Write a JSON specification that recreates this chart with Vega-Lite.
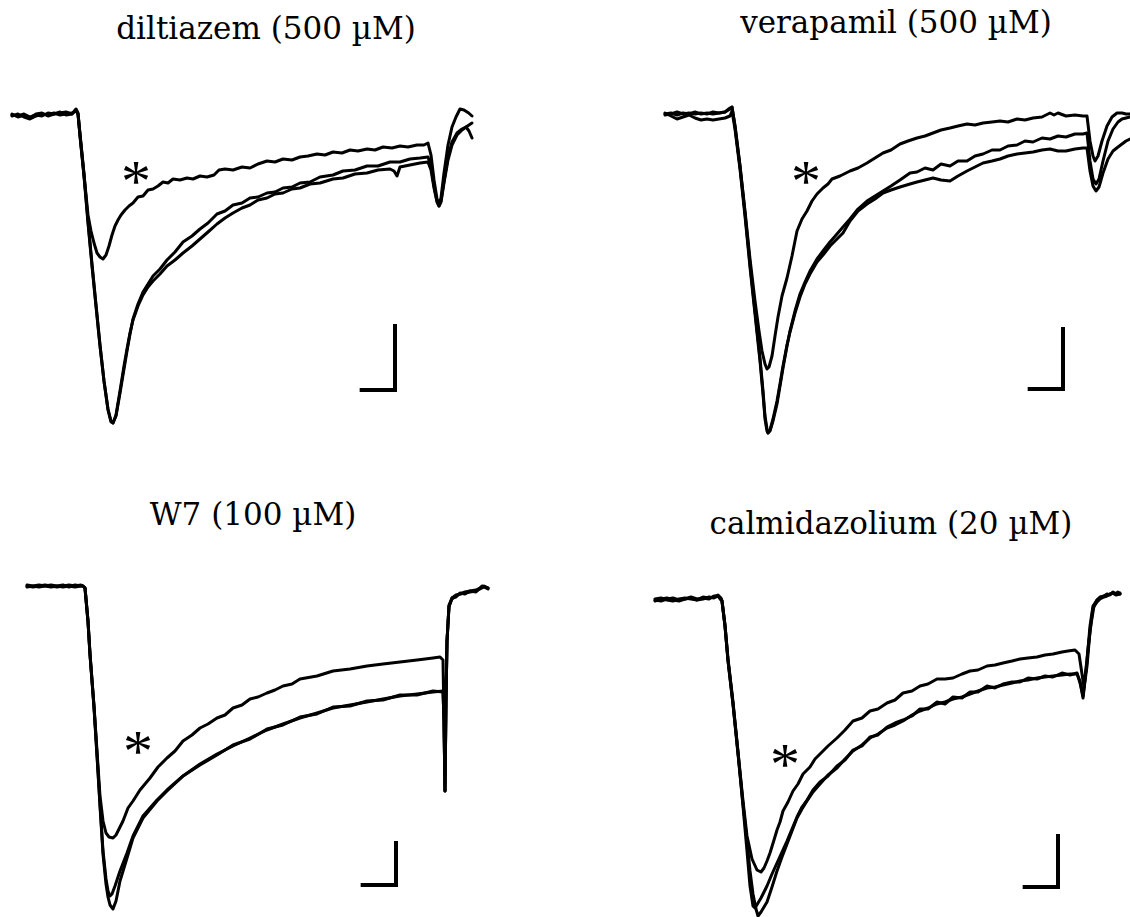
{
  "$schema": "https://vega.github.io/schema/vega-lite/v6.json",
  "background": "white",
  "autosize": {"type": "pad"},
  "padding": {"top": 8, "left": 0, "right": 0, "bottom": 0},
  "columns": 2,
  "spacing": 130,
  "bounds": "flush",
  "config": {
    "view": {"stroke": null},
    "title": {"font": "DejaVu Serif", "fontSize": 31, "fontWeight": "normal", "color": "black", "baseline": "alphabetic", "frame": "group", "anchor": "middle"},
    "line": {"color": "black", "strokeWidth": 3, "strokeJoin": "round", "strokeCap": "round"},
    "rule": {"color": "black", "strokeWidth": 4, "strokeCap": "square"},
    "text": {"color": "black", "font": "Liberation Serif", "fontSize": 60, "baseline": "alphabetic", "align": "center", "dy": 25}
  },
  "datasets": {
    "diltiazem": [
      {"s":"control","t":3.6,"i":0},{"s":"control","t":5.4,"i":-2},{"s":"control","t":7.2,"i":2},{"s":"control","t":9.0,"i":-4},{"s":"control","t":10.8,"i":0},{"s":"control","t":12.6,"i":-2},{"s":"control","t":14.4,"i":4},{"s":"control","t":16.2,"i":2},{"s":"control","t":18.0,"i":6},{"s":"control","t":19.8,"i":0},{"s":"control","t":21.6,"i":2},{"s":"control","t":22.8,"i":12},{"s":"control","t":23.4,"i":4},{"s":"control","t":24.0,"i":-42},{"s":"control","t":25.2,"i":-122},{"s":"control","t":26.4,"i":-216},{"s":"control","t":27.6,"i":-302},{"s":"control","t":28.8,"i":-382},{"s":"control","t":30.0,"i":-462},{"s":"control","t":31.2,"i":-532},{"s":"control","t":32.4,"i":-588},{"s":"control","t":33.3,"i":-612},{"s":"control","t":33.9,"i":-616},{"s":"control","t":34.8,"i":-602},{"s":"control","t":36.0,"i":-556},{"s":"control","t":37.2,"i":-508},{"s":"control","t":38.1,"i":-472},{"s":"control","t":39.0,"i":-438},{"s":"control","t":39.9,"i":-408},{"s":"control","t":41.4,"i":-378},{"s":"control","t":42.9,"i":-354},{"s":"control","t":44.4,"i":-338},{"s":"control","t":45.9,"i":-322},{"s":"control","t":48.0,"i":-308},{"s":"control","t":50.1,"i":-290},{"s":"control","t":52.5,"i":-274},{"s":"control","t":54.9,"i":-254},{"s":"control","t":57.6,"i":-242},{"s":"control","t":60.0,"i":-228},{"s":"control","t":62.4,"i":-216},{"s":"control","t":65.1,"i":-198},{"s":"control","t":67.5,"i":-192},{"s":"control","t":69.9,"i":-180},{"s":"control","t":72.6,"i":-176},{"s":"control","t":75.0,"i":-166},{"s":"control","t":77.4,"i":-164},{"s":"control","t":80.1,"i":-156},{"s":"control","t":82.5,"i":-154},{"s":"control","t":84.9,"i":-146},{"s":"control","t":87.6,"i":-144},{"s":"control","t":90.0,"i":-136},{"s":"control","t":93.0,"i":-134},{"s":"control","t":96.0,"i":-124},{"s":"control","t":99.9,"i":-120},{"s":"control","t":102.9,"i":-112},{"s":"control","t":106.5,"i":-110},{"s":"control","t":110.1,"i":-102},{"s":"control","t":113.4,"i":-102},{"s":"control","t":117.0,"i":-94},{"s":"control","t":120.0,"i":-94},{"s":"control","t":123.0,"i":-88},{"s":"control","t":126.0,"i":-86},{"s":"control","t":128.4,"i":-84},{"s":"control","t":129.3,"i":-102},{"s":"control","t":130.2,"i":-142},{"s":"control","t":131.1,"i":-172},{"s":"control","t":131.7,"i":-182},{"s":"control","t":132.3,"i":-172},{"s":"control","t":133.2,"i":-132},{"s":"control","t":134.4,"i":-84},{"s":"control","t":135.6,"i":-54},{"s":"control","t":137.1,"i":-36},{"s":"control","t":138.6,"i":-28},{"s":"control","t":139.8,"i":-24},{"s":"control","t":140.7,"i":-32},{"s":"control","t":141.6,"i":-46},
      {"s":"washout","t":3.6,"i":-2},{"s":"washout","t":5.4,"i":2},{"s":"washout","t":7.2,"i":-4},{"s":"washout","t":9.0,"i":-8},{"s":"washout","t":10.8,"i":-2},{"s":"washout","t":12.6,"i":2},{"s":"washout","t":14.4,"i":0},{"s":"washout","t":16.2,"i":4},{"s":"washout","t":18.0,"i":0},{"s":"washout","t":19.8,"i":2},{"s":"washout","t":21.6,"i":4},{"s":"washout","t":22.8,"i":8},{"s":"washout","t":23.4,"i":2},{"s":"washout","t":24.0,"i":-38},{"s":"washout","t":25.2,"i":-118},{"s":"washout","t":26.4,"i":-212},{"s":"washout","t":27.6,"i":-298},{"s":"washout","t":28.8,"i":-380},{"s":"washout","t":30.0,"i":-460},{"s":"washout","t":31.2,"i":-532},{"s":"washout","t":32.4,"i":-590},{"s":"washout","t":33.3,"i":-614},{"s":"washout","t":33.9,"i":-616},{"s":"washout","t":34.8,"i":-600},{"s":"washout","t":36.0,"i":-552},{"s":"washout","t":37.2,"i":-502},{"s":"washout","t":38.1,"i":-468},{"s":"washout","t":39.0,"i":-436},{"s":"washout","t":39.9,"i":-410},{"s":"washout","t":41.4,"i":-382},{"s":"washout","t":42.9,"i":-360},{"s":"washout","t":44.4,"i":-344},{"s":"washout","t":45.9,"i":-332},{"s":"washout","t":48.0,"i":-318},{"s":"washout","t":50.1,"i":-302},{"s":"washout","t":52.5,"i":-290},{"s":"washout","t":54.9,"i":-276},{"s":"washout","t":57.6,"i":-262},{"s":"washout","t":60.0,"i":-248},{"s":"washout","t":62.4,"i":-234},{"s":"washout","t":65.1,"i":-218},{"s":"washout","t":67.5,"i":-206},{"s":"washout","t":69.9,"i":-196},{"s":"washout","t":72.6,"i":-186},{"s":"washout","t":75.0,"i":-180},{"s":"washout","t":77.4,"i":-170},{"s":"washout","t":80.1,"i":-166},{"s":"washout","t":82.5,"i":-158},{"s":"washout","t":84.9,"i":-156},{"s":"washout","t":87.6,"i":-148},{"s":"washout","t":90.0,"i":-146},{"s":"washout","t":93.0,"i":-138},{"s":"washout","t":96.0,"i":-136},{"s":"washout","t":99.9,"i":-128},{"s":"washout","t":102.9,"i":-126},{"s":"washout","t":106.5,"i":-118},{"s":"washout","t":110.1,"i":-116},{"s":"washout","t":113.4,"i":-110},{"s":"washout","t":117.0,"i":-108},{"s":"washout","t":118.2,"i":-112},{"s":"washout","t":119.1,"i":-122},{"s":"washout","t":120.0,"i":-104},{"s":"washout","t":123.0,"i":-100},{"s":"washout","t":126.0,"i":-96},{"s":"washout","t":128.4,"i":-94},{"s":"washout","t":129.3,"i":-110},{"s":"washout","t":130.2,"i":-146},{"s":"washout","t":131.1,"i":-174},{"s":"washout","t":131.7,"i":-182},{"s":"washout","t":132.3,"i":-174},{"s":"washout","t":133.2,"i":-136},{"s":"washout","t":134.4,"i":-90},{"s":"washout","t":135.6,"i":-60},{"s":"washout","t":137.1,"i":-40},{"s":"washout","t":138.6,"i":-30},{"s":"washout","t":139.8,"i":-24},{"s":"washout","t":140.7,"i":-20},{"s":"washout","t":141.6,"i":-16},
      {"s":"drug","t":3.6,"i":2},{"s":"drug","t":5.4,"i":-4},{"s":"drug","t":7.2,"i":0},{"s":"drug","t":9.0,"i":-6},{"s":"drug","t":10.8,"i":2},{"s":"drug","t":12.6,"i":4},{"s":"drug","t":14.4,"i":-2},{"s":"drug","t":16.2,"i":2},{"s":"drug","t":18.0,"i":4},{"s":"drug","t":19.8,"i":6},{"s":"drug","t":21.6,"i":2},{"s":"drug","t":22.8,"i":10},{"s":"drug","t":23.4,"i":2},{"s":"drug","t":24.0,"i":-40},{"s":"drug","t":25.2,"i":-120},{"s":"drug","t":26.4,"i":-200},{"s":"drug","t":27.3,"i":-232},{"s":"drug","t":28.2,"i":-256},{"s":"drug","t":29.1,"i":-276},{"s":"drug","t":30.0,"i":-284},{"s":"drug","t":30.9,"i":-288},{"s":"drug","t":31.8,"i":-280},{"s":"drug","t":32.7,"i":-262},{"s":"drug","t":33.6,"i":-240},{"s":"drug","t":34.5,"i":-222},{"s":"drug","t":35.4,"i":-210},{"s":"drug","t":36.3,"i":-200},{"s":"drug","t":37.5,"i":-190},{"s":"drug","t":38.7,"i":-182},{"s":"drug","t":39.9,"i":-176},{"s":"drug","t":41.4,"i":-164},{"s":"drug","t":42.9,"i":-162},{"s":"drug","t":44.4,"i":-150},{"s":"drug","t":45.9,"i":-148},{"s":"drug","t":47.4,"i":-142},{"s":"drug","t":48.9,"i":-134},{"s":"drug","t":50.4,"i":-136},{"s":"drug","t":51.9,"i":-128},{"s":"drug","t":54.0,"i":-130},{"s":"drug","t":56.1,"i":-126},{"s":"drug","t":57.9,"i":-128},{"s":"drug","t":60.0,"i":-122},{"s":"drug","t":62.1,"i":-124},{"s":"drug","t":64.2,"i":-120},{"s":"drug","t":65.7,"i":-110},{"s":"drug","t":67.5,"i":-108},{"s":"drug","t":69.9,"i":-110},{"s":"drug","t":72.6,"i":-104},{"s":"drug","t":75.0,"i":-106},{"s":"drug","t":77.4,"i":-98},{"s":"drug","t":80.1,"i":-92},{"s":"drug","t":82.5,"i":-94},{"s":"drug","t":84.9,"i":-88},{"s":"drug","t":87.6,"i":-90},{"s":"drug","t":90.0,"i":-84},{"s":"drug","t":92.4,"i":-82},{"s":"drug","t":95.1,"i":-78},{"s":"drug","t":97.5,"i":-80},{"s":"drug","t":99.9,"i":-74},{"s":"drug","t":102.6,"i":-76},{"s":"drug","t":105.0,"i":-70},{"s":"drug","t":107.4,"i":-72},{"s":"drug","t":110.1,"i":-68},{"s":"drug","t":112.5,"i":-70},{"s":"drug","t":114.9,"i":-64},{"s":"drug","t":117.6,"i":-66},{"s":"drug","t":120.0,"i":-62},{"s":"drug","t":122.4,"i":-64},{"s":"drug","t":125.1,"i":-60},{"s":"drug","t":127.2,"i":-60},{"s":"drug","t":128.4,"i":-56},{"s":"drug","t":129.3,"i":-80},{"s":"drug","t":130.2,"i":-130},{"s":"drug","t":131.1,"i":-168},{"s":"drug","t":131.7,"i":-178},{"s":"drug","t":132.3,"i":-166},{"s":"drug","t":133.2,"i":-116},{"s":"drug","t":134.4,"i":-60},{"s":"drug","t":135.6,"i":-24},{"s":"drug","t":136.8,"i":-4},{"s":"drug","t":138.0,"i":12},{"s":"drug","t":139.2,"i":10},{"s":"drug","t":140.6,"i":4},{"s":"drug","t":141.6,"i":-2}
    ],
    "verapamil": [
      {"s":"control","t":10.5,"i":0},{"s":"control","t":12.3,"i":2},{"s":"control","t":14.1,"i":-2},{"s":"control","t":15.9,"i":2},{"s":"control","t":17.7,"i":0},{"s":"control","t":19.5,"i":4},{"s":"control","t":21.3,"i":0},{"s":"control","t":23.1,"i":2},{"s":"control","t":24.9,"i":0},{"s":"control","t":26.7,"i":2},{"s":"control","t":28.5,"i":4},{"s":"control","t":30.0,"i":12},{"s":"control","t":30.6,"i":14},{"s":"control","t":31.5,"i":-24},{"s":"control","t":33.0,"i":-104},{"s":"control","t":34.5,"i":-198},{"s":"control","t":36.0,"i":-300},{"s":"control","t":37.5,"i":-394},{"s":"control","t":39.0,"i":-488},{"s":"control","t":39.9,"i":-554},{"s":"control","t":40.5,"i":-604},{"s":"control","t":41.1,"i":-630},{"s":"control","t":41.4,"i":-638},{"s":"control","t":42.0,"i":-634},{"s":"control","t":42.9,"i":-614},{"s":"control","t":44.1,"i":-580},{"s":"control","t":45.0,"i":-544},{"s":"control","t":45.9,"i":-508},{"s":"control","t":47.1,"i":-464},{"s":"control","t":48.0,"i":-434},{"s":"control","t":49.5,"i":-394},{"s":"control","t":51.0,"i":-360},{"s":"control","t":52.5,"i":-336},{"s":"control","t":54.0,"i":-314},{"s":"control","t":56.1,"i":-290},{"s":"control","t":57.9,"i":-274},{"s":"control","t":60.0,"i":-256},{"s":"control","t":62.1,"i":-240},{"s":"control","t":63.9,"i":-226},{"s":"control","t":66.0,"i":-210},{"s":"control","t":68.4,"i":-190},{"s":"control","t":71.1,"i":-174},{"s":"control","t":73.5,"i":-164},{"s":"control","t":75.9,"i":-154},{"s":"control","t":78.3,"i":-144},{"s":"control","t":81.0,"i":-132},{"s":"control","t":84.0,"i":-118},{"s":"control","t":86.1,"i":-116},{"s":"control","t":88.5,"i":-108},{"s":"control","t":90.9,"i":-112},{"s":"control","t":93.3,"i":-100},{"s":"control","t":96.0,"i":-104},{"s":"control","t":98.4,"i":-94},{"s":"control","t":101.1,"i":-94},{"s":"control","t":103.5,"i":-84},{"s":"control","t":105.9,"i":-80},{"s":"control","t":108.6,"i":-72},{"s":"control","t":111.0,"i":-72},{"s":"control","t":113.4,"i":-64},{"s":"control","t":116.1,"i":-62},{"s":"control","t":118.5,"i":-54},{"s":"control","t":120.9,"i":-56},{"s":"control","t":123.6,"i":-48},{"s":"control","t":126.0,"i":-50},{"s":"control","t":128.4,"i":-44},{"s":"control","t":130.8,"i":-46},{"s":"control","t":133.5,"i":-40},{"s":"control","t":135.9,"i":-40},{"s":"control","t":137.1,"i":-38},{"s":"control","t":138.0,"i":-94},{"s":"control","t":138.9,"i":-130},{"s":"control","t":139.8,"i":-140},{"s":"control","t":140.7,"i":-130},{"s":"control","t":141.9,"i":-94},{"s":"control","t":143.4,"i":-54},{"s":"control","t":144.9,"i":-30},{"s":"control","t":146.4,"i":-16},{"s":"control","t":147.6,"i":-10},{"s":"control","t":148.8,"i":-8},{"s":"control","t":150.0,"i":-6},
      {"s":"washout","t":10.5,"i":2},{"s":"washout","t":12.3,"i":-4},{"s":"washout","t":14.1,"i":-10},{"s":"washout","t":15.9,"i":-6},{"s":"washout","t":17.7,"i":-2},{"s":"washout","t":19.5,"i":-8},{"s":"washout","t":21.3,"i":-12},{"s":"washout","t":23.1,"i":-10},{"s":"washout","t":24.9,"i":-12},{"s":"washout","t":26.7,"i":-10},{"s":"washout","t":28.5,"i":-8},{"s":"washout","t":30.0,"i":-4},{"s":"washout","t":30.6,"i":6},{"s":"washout","t":31.5,"i":-30},{"s":"washout","t":33.0,"i":-110},{"s":"washout","t":34.5,"i":-204},{"s":"washout","t":36.0,"i":-306},{"s":"washout","t":37.5,"i":-400},{"s":"washout","t":39.0,"i":-494},{"s":"washout","t":39.9,"i":-560},{"s":"washout","t":40.5,"i":-610},{"s":"washout","t":41.1,"i":-634},{"s":"washout","t":41.4,"i":-638},{"s":"washout","t":42.0,"i":-632},{"s":"washout","t":42.9,"i":-610},{"s":"washout","t":44.1,"i":-574},{"s":"washout","t":45.0,"i":-540},{"s":"washout","t":45.9,"i":-504},{"s":"washout","t":47.1,"i":-462},{"s":"washout","t":48.0,"i":-436},{"s":"washout","t":49.5,"i":-398},{"s":"washout","t":51.0,"i":-366},{"s":"washout","t":52.5,"i":-340},{"s":"washout","t":54.0,"i":-320},{"s":"washout","t":56.1,"i":-296},{"s":"washout","t":57.9,"i":-282},{"s":"washout","t":60.0,"i":-264},{"s":"washout","t":62.1,"i":-250},{"s":"washout","t":63.9,"i":-238},{"s":"washout","t":66.0,"i":-214},{"s":"washout","t":68.4,"i":-194},{"s":"washout","t":71.1,"i":-180},{"s":"washout","t":73.5,"i":-170},{"s":"washout","t":75.9,"i":-158},{"s":"washout","t":78.3,"i":-152},{"s":"washout","t":81.0,"i":-146},{"s":"washout","t":84.0,"i":-140},{"s":"washout","t":86.1,"i":-136},{"s":"washout","t":88.5,"i":-132},{"s":"washout","t":90.9,"i":-128},{"s":"washout","t":93.3,"i":-132},{"s":"washout","t":96.0,"i":-134},{"s":"washout","t":98.4,"i":-124},{"s":"washout","t":101.1,"i":-114},{"s":"washout","t":103.5,"i":-106},{"s":"washout","t":105.9,"i":-98},{"s":"washout","t":108.6,"i":-94},{"s":"washout","t":111.0,"i":-90},{"s":"washout","t":113.4,"i":-84},{"s":"washout","t":116.1,"i":-80},{"s":"washout","t":118.5,"i":-78},{"s":"washout","t":120.9,"i":-76},{"s":"washout","t":123.6,"i":-72},{"s":"washout","t":126.0,"i":-70},{"s":"washout","t":128.4,"i":-74},{"s":"washout","t":130.8,"i":-74},{"s":"washout","t":133.5,"i":-70},{"s":"washout","t":135.9,"i":-68},{"s":"washout","t":137.1,"i":-68},{"s":"washout","t":138.0,"i":-114},{"s":"washout","t":138.9,"i":-144},{"s":"washout","t":139.8,"i":-154},{"s":"washout","t":140.7,"i":-146},{"s":"washout","t":141.9,"i":-118},{"s":"washout","t":143.4,"i":-90},{"s":"washout","t":144.9,"i":-74},{"s":"washout","t":146.4,"i":-66},{"s":"washout","t":147.6,"i":-60},{"s":"washout","t":148.8,"i":-54},{"s":"washout","t":150.0,"i":-50},
      {"s":"drug","t":10.5,"i":-2},{"s":"drug","t":12.3,"i":0},{"s":"drug","t":14.1,"i":4},{"s":"drug","t":15.9,"i":0},{"s":"drug","t":17.7,"i":2},{"s":"drug","t":19.5,"i":0},{"s":"drug","t":21.3,"i":2},{"s":"drug","t":23.1,"i":0},{"s":"drug","t":24.9,"i":4},{"s":"drug","t":26.7,"i":2},{"s":"drug","t":28.5,"i":4},{"s":"drug","t":30.0,"i":10},{"s":"drug","t":30.6,"i":14},{"s":"drug","t":31.5,"i":-24},{"s":"drug","t":33.0,"i":-104},{"s":"drug","t":34.5,"i":-194},{"s":"drug","t":36.0,"i":-290},{"s":"drug","t":37.5,"i":-374},{"s":"drug","t":38.7,"i":-434},{"s":"drug","t":39.6,"i":-474},{"s":"drug","t":40.5,"i":-500},{"s":"drug","t":41.1,"i":-510},{"s":"drug","t":41.7,"i":-506},{"s":"drug","t":42.6,"i":-484},{"s":"drug","t":43.5,"i":-444},{"s":"drug","t":44.4,"i":-406},{"s":"drug","t":45.6,"i":-364},{"s":"drug","t":47.1,"i":-328},{"s":"drug","t":48.6,"i":-284},{"s":"drug","t":50.1,"i":-234},{"s":"drug","t":51.6,"i":-210},{"s":"drug","t":53.1,"i":-194},{"s":"drug","t":54.6,"i":-174},{"s":"drug","t":56.1,"i":-160},{"s":"drug","t":57.9,"i":-148},{"s":"drug","t":59.4,"i":-140},{"s":"drug","t":60.6,"i":-130},{"s":"drug","t":63.0,"i":-124},{"s":"drug","t":66.0,"i":-114},{"s":"drug","t":68.4,"i":-108},{"s":"drug","t":71.1,"i":-98},{"s":"drug","t":73.5,"i":-88},{"s":"drug","t":75.9,"i":-78},{"s":"drug","t":78.3,"i":-72},{"s":"drug","t":81.0,"i":-60},{"s":"drug","t":83.4,"i":-54},{"s":"drug","t":86.1,"i":-48},{"s":"drug","t":88.5,"i":-44},{"s":"drug","t":90.9,"i":-38},{"s":"drug","t":93.3,"i":-32},{"s":"drug","t":96.0,"i":-28},{"s":"drug","t":98.4,"i":-24},{"s":"drug","t":101.1,"i":-20},{"s":"drug","t":103.5,"i":-22},{"s":"drug","t":105.9,"i":-18},{"s":"drug","t":108.6,"i":-16},{"s":"drug","t":111.0,"i":-14},{"s":"drug","t":113.4,"i":-16},{"s":"drug","t":116.1,"i":-10},{"s":"drug","t":118.5,"i":-12},{"s":"drug","t":120.9,"i":-8},{"s":"drug","t":123.6,"i":-6},{"s":"drug","t":126.0,"i":2},{"s":"drug","t":127.2,"i":-2},{"s":"drug","t":128.4,"i":2},{"s":"drug","t":130.8,"i":-4},{"s":"drug","t":133.5,"i":-2},{"s":"drug","t":135.9,"i":-4},{"s":"drug","t":137.1,"i":-4},{"s":"drug","t":138.0,"i":-54},{"s":"drug","t":138.9,"i":-84},{"s":"drug","t":139.5,"i":-94},{"s":"drug","t":140.4,"i":-84},{"s":"drug","t":141.6,"i":-54},{"s":"drug","t":143.1,"i":-24},{"s":"drug","t":144.6,"i":-6},{"s":"drug","t":146.1,"i":2},{"s":"drug","t":147.6,"i":2},{"s":"drug","t":148.8,"i":0},{"s":"drug","t":150.0,"i":0}
    ],
    "w7": [
      {"s":"control","t":8.1,"i":0},{"s":"control","t":9.9,"i":-2},{"s":"control","t":11.7,"i":0},{"s":"control","t":13.5,"i":2},{"s":"control","t":15.3,"i":0},{"s":"control","t":17.1,"i":-2},{"s":"control","t":18.9,"i":0},{"s":"control","t":20.7,"i":2},{"s":"control","t":22.5,"i":0},{"s":"control","t":24.3,"i":2},{"s":"control","t":24.9,"i":0},{"s":"control","t":25.5,"i":-4},{"s":"control","t":26.4,"i":-70},{"s":"control","t":27.0,"i":-136},{"s":"control","t":28.2,"i":-240},{"s":"control","t":29.1,"i":-336},{"s":"control","t":30.0,"i":-436},{"s":"control","t":30.9,"i":-530},{"s":"control","t":31.8,"i":-586},{"s":"control","t":32.4,"i":-610},{"s":"control","t":33.0,"i":-620},{"s":"control","t":33.6,"i":-616},{"s":"control","t":34.5,"i":-600},{"s":"control","t":36.0,"i":-570},{"s":"control","t":38.1,"i":-534},{"s":"control","t":39.9,"i":-500},{"s":"control","t":42.9,"i":-460},{"s":"control","t":47.1,"i":-428},{"s":"control","t":50.1,"i":-408},{"s":"control","t":54.9,"i":-380},{"s":"control","t":60.0,"i":-356},{"s":"control","t":65.1,"i":-336},{"s":"control","t":69.9,"i":-320},{"s":"control","t":75.0,"i":-304},{"s":"control","t":80.1,"i":-288},{"s":"control","t":84.9,"i":-276},{"s":"control","t":90.0,"i":-264},{"s":"control","t":95.1,"i":-254},{"s":"control","t":99.9,"i":-244},{"s":"control","t":105.0,"i":-238},{"s":"control","t":110.1,"i":-232},{"s":"control","t":114.9,"i":-226},{"s":"control","t":120.0,"i":-220},{"s":"control","t":125.1,"i":-216},{"s":"control","t":129.9,"i":-212},{"s":"control","t":132.9,"i":-210},{"s":"control","t":133.2,"i":-270},{"s":"control","t":133.5,"i":-410},{"s":"control","t":133.8,"i":-230},{"s":"control","t":134.1,"i":-110},{"s":"control","t":134.7,"i":-40},{"s":"control","t":135.6,"i":-26},{"s":"control","t":136.8,"i":-20},{"s":"control","t":138.0,"i":-16},{"s":"control","t":139.5,"i":-14},{"s":"control","t":141.0,"i":-12},{"s":"control","t":142.8,"i":-10},{"s":"control","t":144.0,"i":-6},{"s":"control","t":145.2,"i":-2},{"s":"control","t":146.4,"i":-6},
      {"s":"washout","t":8.1,"i":-2},{"s":"washout","t":9.9,"i":0},{"s":"washout","t":11.7,"i":2},{"s":"washout","t":13.5,"i":0},{"s":"washout","t":15.3,"i":-2},{"s":"washout","t":17.1,"i":0},{"s":"washout","t":18.9,"i":2},{"s":"washout","t":20.7,"i":-2},{"s":"washout","t":22.5,"i":2},{"s":"washout","t":24.3,"i":0},{"s":"washout","t":24.9,"i":0},{"s":"washout","t":25.5,"i":-4},{"s":"washout","t":26.4,"i":-72},{"s":"washout","t":27.0,"i":-138},{"s":"washout","t":28.2,"i":-244},{"s":"washout","t":29.1,"i":-340},{"s":"washout","t":30.0,"i":-440},{"s":"washout","t":30.9,"i":-536},{"s":"washout","t":31.8,"i":-596},{"s":"washout","t":32.4,"i":-622},{"s":"washout","t":33.0,"i":-638},{"s":"washout","t":33.9,"i":-646},{"s":"washout","t":34.8,"i":-630},{"s":"washout","t":36.0,"i":-590},{"s":"washout","t":38.1,"i":-544},{"s":"washout","t":39.9,"i":-504},{"s":"washout","t":42.9,"i":-464},{"s":"washout","t":47.1,"i":-430},{"s":"washout","t":50.1,"i":-410},{"s":"washout","t":54.9,"i":-380},{"s":"washout","t":60.0,"i":-358},{"s":"washout","t":65.1,"i":-338},{"s":"washout","t":69.9,"i":-318},{"s":"washout","t":75.0,"i":-306},{"s":"washout","t":80.1,"i":-286},{"s":"washout","t":84.9,"i":-278},{"s":"washout","t":90.0,"i":-262},{"s":"washout","t":95.1,"i":-256},{"s":"washout","t":99.9,"i":-242},{"s":"washout","t":105.0,"i":-240},{"s":"washout","t":110.1,"i":-230},{"s":"washout","t":114.9,"i":-228},{"s":"washout","t":120.0,"i":-218},{"s":"washout","t":125.1,"i":-218},{"s":"washout","t":129.9,"i":-210},{"s":"washout","t":132.9,"i":-212},{"s":"washout","t":133.2,"i":-270},{"s":"washout","t":133.5,"i":-410},{"s":"washout","t":133.8,"i":-230},{"s":"washout","t":134.1,"i":-110},{"s":"washout","t":134.7,"i":-42},{"s":"washout","t":135.6,"i":-24},{"s":"washout","t":136.8,"i":-22},{"s":"washout","t":138.0,"i":-14},{"s":"washout","t":139.5,"i":-16},{"s":"washout","t":141.0,"i":-10},{"s":"washout","t":142.8,"i":-12},{"s":"washout","t":144.0,"i":-4},{"s":"washout","t":145.2,"i":0},{"s":"washout","t":146.4,"i":-4},
      {"s":"drug","t":8.1,"i":2},{"s":"drug","t":9.9,"i":0},{"s":"drug","t":11.7,"i":-2},{"s":"drug","t":13.5,"i":0},{"s":"drug","t":15.3,"i":2},{"s":"drug","t":17.1,"i":0},{"s":"drug","t":18.9,"i":-2},{"s":"drug","t":20.7,"i":0},{"s":"drug","t":22.5,"i":-2},{"s":"drug","t":24.3,"i":0},{"s":"drug","t":24.9,"i":0},{"s":"drug","t":25.5,"i":-4},{"s":"drug","t":26.4,"i":-70},{"s":"drug","t":27.0,"i":-136},{"s":"drug","t":28.2,"i":-240},{"s":"drug","t":29.1,"i":-330},{"s":"drug","t":30.0,"i":-420},{"s":"drug","t":30.9,"i":-470},{"s":"drug","t":31.8,"i":-494},{"s":"drug","t":32.7,"i":-502},{"s":"drug","t":33.9,"i":-504},{"s":"drug","t":34.8,"i":-498},{"s":"drug","t":35.7,"i":-486},{"s":"drug","t":36.9,"i":-470},{"s":"drug","t":38.4,"i":-444},{"s":"drug","t":39.9,"i":-430},{"s":"drug","t":42.0,"i":-408},{"s":"drug","t":45.0,"i":-384},{"s":"drug","t":47.4,"i":-362},{"s":"drug","t":50.1,"i":-344},{"s":"drug","t":52.5,"i":-330},{"s":"drug","t":54.9,"i":-310},{"s":"drug","t":57.6,"i":-298},{"s":"drug","t":60.0,"i":-284},{"s":"drug","t":62.4,"i":-276},{"s":"drug","t":65.1,"i":-264},{"s":"drug","t":67.5,"i":-258},{"s":"drug","t":69.9,"i":-244},{"s":"drug","t":72.6,"i":-238},{"s":"drug","t":75.0,"i":-226},{"s":"drug","t":77.4,"i":-222},{"s":"drug","t":80.1,"i":-214},{"s":"drug","t":82.5,"i":-208},{"s":"drug","t":84.9,"i":-200},{"s":"drug","t":87.6,"i":-196},{"s":"drug","t":90.0,"i":-186},{"s":"drug","t":95.1,"i":-180},{"s":"drug","t":99.9,"i":-170},{"s":"drug","t":105.0,"i":-166},{"s":"drug","t":110.1,"i":-160},{"s":"drug","t":114.9,"i":-156},{"s":"drug","t":120.0,"i":-152},{"s":"drug","t":125.1,"i":-148},{"s":"drug","t":129.9,"i":-144},{"s":"drug","t":132.0,"i":-142},{"s":"drug","t":132.9,"i":-148},{"s":"drug","t":133.2,"i":-270},{"s":"drug","t":133.5,"i":-410},{"s":"drug","t":133.8,"i":-230},{"s":"drug","t":134.1,"i":-110},{"s":"drug","t":134.7,"i":-38},{"s":"drug","t":135.6,"i":-24},{"s":"drug","t":136.8,"i":-18},{"s":"drug","t":138.0,"i":-16},{"s":"drug","t":139.5,"i":-12},{"s":"drug","t":141.0,"i":-10},{"s":"drug","t":142.8,"i":-8},{"s":"drug","t":144.0,"i":-4},{"s":"drug","t":144.6,"i":0},{"s":"drug","t":145.5,"i":-2},{"s":"drug","t":146.4,"i":-4}
    ],
    "calmidazolium": [
      {"s":"control","t":7.5,"i":-2},{"s":"control","t":9.3,"i":-4},{"s":"control","t":11.1,"i":0},{"s":"control","t":12.9,"i":2},{"s":"control","t":14.7,"i":-2},{"s":"control","t":16.5,"i":0},{"s":"control","t":18.3,"i":4},{"s":"control","t":20.1,"i":0},{"s":"control","t":21.9,"i":2},{"s":"control","t":23.7,"i":0},{"s":"control","t":25.2,"i":6},{"s":"control","t":26.4,"i":6},{"s":"control","t":27.3,"i":0},{"s":"control","t":27.6,"i":-4},{"s":"control","t":28.5,"i":-52},{"s":"control","t":29.4,"i":-120},{"s":"control","t":30.9,"i":-206},{"s":"control","t":32.4,"i":-306},{"s":"control","t":33.9,"i":-414},{"s":"control","t":35.1,"i":-504},{"s":"control","t":36.0,"i":-574},{"s":"control","t":36.9,"i":-614},{"s":"control","t":37.5,"i":-618},{"s":"control","t":38.4,"i":-608},{"s":"control","t":39.3,"i":-598},{"s":"control","t":40.2,"i":-586},{"s":"control","t":41.1,"i":-574},{"s":"control","t":42.6,"i":-550},{"s":"control","t":44.1,"i":-528},{"s":"control","t":45.6,"i":-506},{"s":"control","t":47.1,"i":-484},{"s":"control","t":48.6,"i":-460},{"s":"control","t":50.1,"i":-436},{"s":"control","t":51.6,"i":-416},{"s":"control","t":53.1,"i":-402},{"s":"control","t":54.9,"i":-382},{"s":"control","t":57.0,"i":-366},{"s":"control","t":59.4,"i":-354},{"s":"control","t":62.1,"i":-334},{"s":"control","t":64.5,"i":-322},{"s":"control","t":66.9,"i":-302},{"s":"control","t":69.6,"i":-294},{"s":"control","t":72.0,"i":-276},{"s":"control","t":74.4,"i":-272},{"s":"control","t":77.1,"i":-256},{"s":"control","t":79.5,"i":-248},{"s":"control","t":81.9,"i":-242},{"s":"control","t":84.6,"i":-234},{"s":"control","t":87.0,"i":-220},{"s":"control","t":89.4,"i":-220},{"s":"control","t":92.1,"i":-206},{"s":"control","t":94.5,"i":-210},{"s":"control","t":96.9,"i":-196},{"s":"control","t":99.6,"i":-198},{"s":"control","t":102.0,"i":-186},{"s":"control","t":104.4,"i":-186},{"s":"control","t":107.1,"i":-174},{"s":"control","t":109.5,"i":-178},{"s":"control","t":111.9,"i":-170},{"s":"control","t":114.6,"i":-166},{"s":"control","t":117.0,"i":-166},{"s":"control","t":119.4,"i":-158},{"s":"control","t":122.1,"i":-160},{"s":"control","t":124.5,"i":-154},{"s":"control","t":126.9,"i":-156},{"s":"control","t":129.6,"i":-148},{"s":"control","t":132.0,"i":-152},{"s":"control","t":134.1,"i":-148},{"s":"control","t":135.0,"i":-168},{"s":"control","t":135.9,"i":-194},{"s":"control","t":136.5,"i":-160},{"s":"control","t":137.1,"i":-124},{"s":"control","t":138.0,"i":-54},{"s":"control","t":138.9,"i":-14},{"s":"control","t":140.1,"i":-2},{"s":"control","t":141.0,"i":4},{"s":"control","t":142.2,"i":6},{"s":"control","t":143.1,"i":10},{"s":"control","t":144.0,"i":8},{"s":"control","t":144.9,"i":14},{"s":"control","t":145.8,"i":10},{"s":"control","t":147.0,"i":12},
      {"s":"washout","t":7.5,"i":0},{"s":"washout","t":9.3,"i":2},{"s":"washout","t":11.1,"i":-2},{"s":"washout","t":12.9,"i":-4},{"s":"washout","t":14.7,"i":0},{"s":"washout","t":16.5,"i":2},{"s":"washout","t":18.3,"i":0},{"s":"washout","t":20.1,"i":-2},{"s":"washout","t":21.9,"i":4},{"s":"washout","t":23.7,"i":2},{"s":"washout","t":25.2,"i":4},{"s":"washout","t":26.4,"i":8},{"s":"washout","t":27.3,"i":2},{"s":"washout","t":27.6,"i":-4},{"s":"washout","t":28.5,"i":-54},{"s":"washout","t":29.4,"i":-124},{"s":"washout","t":30.9,"i":-210},{"s":"washout","t":32.4,"i":-310},{"s":"washout","t":33.9,"i":-410},{"s":"washout","t":35.1,"i":-484},{"s":"washout","t":36.0,"i":-544},{"s":"washout","t":36.9,"i":-590},{"s":"washout","t":37.8,"i":-620},{"s":"washout","t":38.4,"i":-634},{"s":"washout","t":39.3,"i":-626},{"s":"washout","t":40.2,"i":-616},{"s":"washout","t":41.1,"i":-606},{"s":"washout","t":42.6,"i":-576},{"s":"washout","t":44.1,"i":-544},{"s":"washout","t":45.6,"i":-516},{"s":"washout","t":47.1,"i":-490},{"s":"washout","t":48.6,"i":-464},{"s":"washout","t":50.1,"i":-438},{"s":"washout","t":51.6,"i":-420},{"s":"washout","t":53.1,"i":-404},{"s":"washout","t":54.9,"i":-386},{"s":"washout","t":57.0,"i":-370},{"s":"washout","t":59.4,"i":-352},{"s":"washout","t":62.1,"i":-338},{"s":"washout","t":64.5,"i":-320},{"s":"washout","t":66.9,"i":-304},{"s":"washout","t":69.6,"i":-292},{"s":"washout","t":72.0,"i":-278},{"s":"washout","t":74.4,"i":-270},{"s":"washout","t":77.1,"i":-258},{"s":"washout","t":79.5,"i":-252},{"s":"washout","t":81.9,"i":-244},{"s":"washout","t":84.6,"i":-232},{"s":"washout","t":87.0,"i":-224},{"s":"washout","t":89.4,"i":-218},{"s":"washout","t":92.1,"i":-210},{"s":"washout","t":94.5,"i":-206},{"s":"washout","t":96.9,"i":-200},{"s":"washout","t":99.6,"i":-196},{"s":"washout","t":102.0,"i":-190},{"s":"washout","t":104.4,"i":-184},{"s":"washout","t":107.1,"i":-178},{"s":"washout","t":109.5,"i":-176},{"s":"washout","t":111.9,"i":-172},{"s":"washout","t":114.6,"i":-168},{"s":"washout","t":117.0,"i":-164},{"s":"washout","t":119.4,"i":-162},{"s":"washout","t":122.1,"i":-158},{"s":"washout","t":124.5,"i":-156},{"s":"washout","t":126.9,"i":-154},{"s":"washout","t":129.6,"i":-152},{"s":"washout","t":132.0,"i":-150},{"s":"washout","t":134.1,"i":-150},{"s":"washout","t":135.0,"i":-164},{"s":"washout","t":135.9,"i":-198},{"s":"washout","t":136.5,"i":-164},{"s":"washout","t":137.1,"i":-134},{"s":"washout","t":138.0,"i":-64},{"s":"washout","t":138.9,"i":-18},{"s":"washout","t":140.1,"i":-6},{"s":"washout","t":141.0,"i":0},{"s":"washout","t":142.2,"i":4},{"s":"washout","t":143.1,"i":6},{"s":"washout","t":144.0,"i":10},{"s":"washout","t":144.9,"i":12},{"s":"washout","t":145.8,"i":8},{"s":"washout","t":147.0,"i":10},
      {"s":"drug","t":7.5,"i":-4},{"s":"drug","t":9.3,"i":0},{"s":"drug","t":11.1,"i":2},{"s":"drug","t":12.9,"i":-2},{"s":"drug","t":14.7,"i":-4},{"s":"drug","t":16.5,"i":0},{"s":"drug","t":18.3,"i":2},{"s":"drug","t":20.1,"i":-2},{"s":"drug","t":21.9,"i":0},{"s":"drug","t":23.7,"i":4},{"s":"drug","t":25.2,"i":2},{"s":"drug","t":26.4,"i":6},{"s":"drug","t":27.3,"i":-2},{"s":"drug","t":27.6,"i":-4},{"s":"drug","t":28.5,"i":-54},{"s":"drug","t":29.4,"i":-122},{"s":"drug","t":30.9,"i":-210},{"s":"drug","t":32.4,"i":-306},{"s":"drug","t":33.9,"i":-404},{"s":"drug","t":35.1,"i":-474},{"s":"drug","t":36.6,"i":-520},{"s":"drug","t":38.1,"i":-542},{"s":"drug","t":39.3,"i":-546},{"s":"drug","t":40.2,"i":-538},{"s":"drug","t":41.1,"i":-524},{"s":"drug","t":42.0,"i":-508},{"s":"drug","t":43.2,"i":-482},{"s":"drug","t":44.1,"i":-462},{"s":"drug","t":45.0,"i":-446},{"s":"drug","t":45.9,"i":-424},{"s":"drug","t":47.4,"i":-406},{"s":"drug","t":48.9,"i":-384},{"s":"drug","t":50.4,"i":-370},{"s":"drug","t":51.9,"i":-350},{"s":"drug","t":54.0,"i":-336},{"s":"drug","t":55.5,"i":-320},{"s":"drug","t":57.0,"i":-310},{"s":"drug","t":59.4,"i":-294},{"s":"drug","t":62.1,"i":-278},{"s":"drug","t":64.5,"i":-262},{"s":"drug","t":66.9,"i":-244},{"s":"drug","t":69.6,"i":-238},{"s":"drug","t":72.0,"i":-224},{"s":"drug","t":74.4,"i":-220},{"s":"drug","t":77.1,"i":-208},{"s":"drug","t":79.5,"i":-202},{"s":"drug","t":81.9,"i":-188},{"s":"drug","t":84.6,"i":-184},{"s":"drug","t":87.0,"i":-174},{"s":"drug","t":89.4,"i":-170},{"s":"drug","t":92.1,"i":-160},{"s":"drug","t":94.5,"i":-160},{"s":"drug","t":96.9,"i":-158},{"s":"drug","t":99.6,"i":-150},{"s":"drug","t":102.0,"i":-144},{"s":"drug","t":104.4,"i":-142},{"s":"drug","t":107.1,"i":-134},{"s":"drug","t":109.5,"i":-132},{"s":"drug","t":111.9,"i":-128},{"s":"drug","t":114.6,"i":-124},{"s":"drug","t":117.0,"i":-120},{"s":"drug","t":119.4,"i":-118},{"s":"drug","t":122.1,"i":-116},{"s":"drug","t":124.5,"i":-112},{"s":"drug","t":126.9,"i":-110},{"s":"drug","t":129.6,"i":-106},{"s":"drug","t":131.4,"i":-104},{"s":"drug","t":133.5,"i":-102},{"s":"drug","t":134.7,"i":-110},{"s":"drug","t":135.6,"i":-150},{"s":"drug","t":136.2,"i":-176},{"s":"drug","t":136.8,"i":-140},{"s":"drug","t":137.4,"i":-100},{"s":"drug","t":138.3,"i":-50},{"s":"drug","t":139.2,"i":-14},{"s":"drug","t":140.1,"i":-2},{"s":"drug","t":141.0,"i":2},{"s":"drug","t":142.2,"i":6},{"s":"drug","t":143.4,"i":8},{"s":"drug","t":144.6,"i":12},{"s":"drug","t":145.5,"i":10},{"s":"drug","t":146.4,"i":14},{"s":"drug","t":147.0,"i":10}
    ],
    "diltiazemBar": [{"t0":118.5,"t1":118.5,"i0":-422,"i1":-550},{"t0":108.5,"t1":118.5,"i0":-550,"i1":-550}],
    "verapamilBar": [{"t0":129.9,"t1":129.9,"i0":-430,"i1":-550},{"t0":119.9,"t1":129.9,"i0":-550,"i1":-550}],
    "w7Bar": [{"t0":118.8,"t1":118.8,"i0":-514,"i1":-598},{"t0":108.8,"t1":118.8,"i0":-598,"i1":-598}],
    "calmidazoliumBar": [{"t0":128.4,"t1":128.4,"i0":-474,"i1":-576},{"t0":118.4,"t1":128.4,"i0":-576,"i1":-576}],
    "diltiazemStar": [{"t":40.8,"i":-122}],
    "verapamilStar": [{"t":52.8,"i":-124}],
    "w7Star": [{"t":41.4,"i":-320}],
    "calmidazoliumStar": [{"t":46.5,"i":-320}]
  },
  "concat": [
    {
      "width": 500, "height": 345,
      "title": {"text": "diltiazem (500 µM)", "offset": 50, "dx": 16},
      "layer": [
        {"data": {"name": "diltiazem"}, "mark": {"type": "line"},
         "encoding": {"x": {"field": "t", "type": "quantitative", "axis": null, "scale": {"domain": [0, 150], "nice": false, "zero": false}},
                      "y": {"field": "i", "type": "quantitative", "axis": null, "scale": {"domain": [-652, 38], "nice": false, "zero": false}},
                      "detail": {"field": "s"}}},
        {"data": {"name": "diltiazemBar"}, "mark": {"type": "rule"},
         "encoding": {"x": {"field": "t0", "type": "quantitative"}, "x2": {"field": "t1"}, "y": {"field": "i0", "type": "quantitative"}, "y2": {"field": "i1"}}},
        {"data": {"name": "diltiazemStar"}, "mark": {"type": "text", "text": "*"},
         "encoding": {"x": {"field": "t", "type": "quantitative"}, "y": {"field": "i", "type": "quantitative"}}}
      ]
    },
    {
      "width": 500, "height": 345,
      "title": {"text": "verapamil (500 µM)", "offset": 56, "dx": 16},
      "layer": [
        {"data": {"name": "verapamil"}, "mark": {"type": "line"},
         "encoding": {"x": {"field": "t", "type": "quantitative", "axis": null, "scale": {"domain": [0, 150], "nice": false, "zero": false}},
                      "y": {"field": "i", "type": "quantitative", "axis": null, "scale": {"domain": [-654, 36], "nice": false, "zero": false}},
                      "detail": {"field": "s"}}},
        {"data": {"name": "verapamilBar"}, "mark": {"type": "rule"},
         "encoding": {"x": {"field": "t0", "type": "quantitative"}, "x2": {"field": "t1"}, "y": {"field": "i0", "type": "quantitative"}, "y2": {"field": "i1"}}},
        {"data": {"name": "verapamilStar"}, "mark": {"type": "text", "text": "*"},
         "encoding": {"x": {"field": "t", "type": "quantitative"}, "y": {"field": "i", "type": "quantitative"}}}
      ]
    },
    {
      "width": 500, "height": 345,
      "title": {"text": "W7 (100 µM)", "offset": 39, "dx": 3},
      "layer": [
        {"data": {"name": "w7"}, "mark": {"type": "line"},
         "encoding": {"x": {"field": "t", "type": "quantitative", "axis": null, "scale": {"domain": [0, 150], "nice": false, "zero": false}},
                      "y": {"field": "i", "type": "quantitative", "axis": null, "scale": {"domain": [-660, 30], "nice": false, "zero": false}},
                      "detail": {"field": "s"}}},
        {"data": {"name": "w7Bar"}, "mark": {"type": "rule"},
         "encoding": {"x": {"field": "t0", "type": "quantitative"}, "x2": {"field": "t1"}, "y": {"field": "i0", "type": "quantitative"}, "y2": {"field": "i1"}}},
        {"data": {"name": "w7Star"}, "mark": {"type": "text", "text": "*"},
         "encoding": {"x": {"field": "t", "type": "quantitative"}, "y": {"field": "i", "type": "quantitative"}}}
      ]
    },
    {
      "width": 500, "height": 345,
      "title": {"text": "calmidazolium (20 µM)", "offset": 30, "dx": 11},
      "layer": [
        {"data": {"name": "calmidazolium"}, "mark": {"type": "line"},
         "encoding": {"x": {"field": "t", "type": "quantitative", "axis": null, "scale": {"domain": [0, 150], "nice": false, "zero": false}},
                      "y": {"field": "i", "type": "quantitative", "axis": null, "scale": {"domain": [-634, 56], "nice": false, "zero": false}},
                      "detail": {"field": "s"}}},
        {"data": {"name": "calmidazoliumBar"}, "mark": {"type": "rule"},
         "encoding": {"x": {"field": "t0", "type": "quantitative"}, "x2": {"field": "t1"}, "y": {"field": "i0", "type": "quantitative"}, "y2": {"field": "i1"}}},
        {"data": {"name": "calmidazoliumStar"}, "mark": {"type": "text", "text": "*"},
         "encoding": {"x": {"field": "t", "type": "quantitative"}, "y": {"field": "i", "type": "quantitative"}}}
      ]
    }
  ]
}
